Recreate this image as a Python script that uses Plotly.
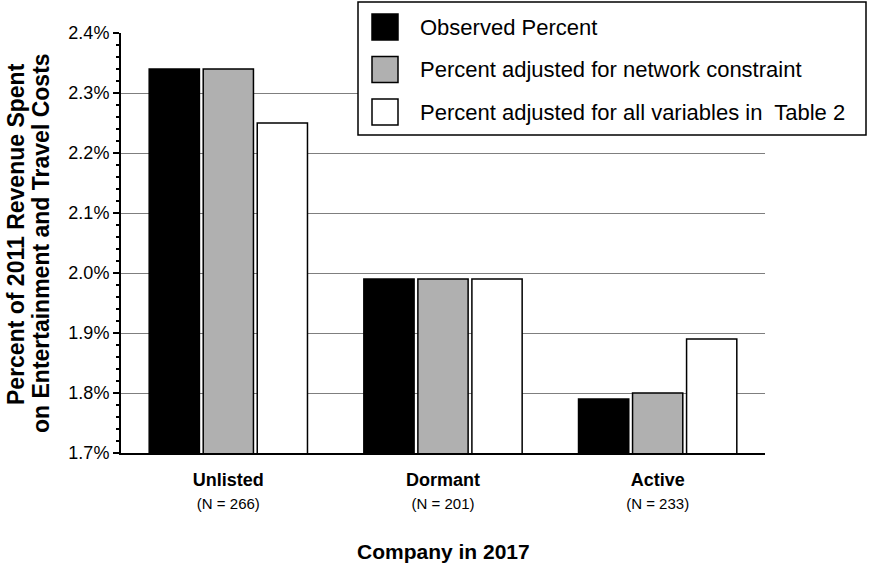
import plotly.graph_objects as go

categories = ["Unlisted", "Dormant", "Active"]
n_labels = ["(N = 266)", "(N = 201)", "(N = 233)"]
series_names = ["Observed Percent",
                "Percent adjusted for network constraint",
                "Percent adjusted for all variables in  Table 2"]
observed = [2.34, 1.99, 1.79]
adj_network = [2.34, 1.99, 1.80]
adj_all = [2.25, 1.99, 1.89]
colors = ["#000000", "#b0b0b0", "#ffffff"]
y_ticks = [1.7, 1.8, 1.9, 2.0, 2.1, 2.2, 2.3, 2.4]
y_title_lines = ["Percent of 2011 Revenue Spent", "on Entertainment and Travel Costs"]
x_title = "Company in 2017"

FONT = "Liberation Sans, Arial, sans-serif"

fig = go.Figure()
for name, vals, col in zip(series_names, [observed, adj_network, adj_all], colors):
    fig.add_trace(go.Bar(x=categories, y=vals, name=name,
                         marker=dict(color=col, line=dict(color="black", width=1.5)),
                         showlegend=False, hoverinfo="skip"))

ticktext = [f"<b>{c}</b><br><span style='font-size:15px'>{n}</span>" for c, n in zip(categories, n_labels)]

L, R, T, B = 121, 104, 33, 119
W, H = 869, 572
pw, ph = W - L - R, H - T - B

def px(x):
    return (x - L) / pw

def py(y):
    return (H - B - y) / ph

shapes = []
annotations = []
# legend box
shapes.append(dict(type="rect", xref="paper", yref="paper",
                   x0=px(358), x1=px(866), y0=py(135), y1=py(2),
                   line=dict(color="black", width=1.5), fillcolor="white", layer="above"))
for i, (name, col) in enumerate(zip(series_names, colors)):
    yc = 27 + i * 42.5
    shapes.append(dict(type="rect", xref="paper", yref="paper",
                       x0=px(372), x1=px(398), y0=py(yc + 13), y1=py(yc - 13),
                       line=dict(color="black", width=1.5), fillcolor=col, layer="above"))
    annotations.append(dict(xref="paper", yref="paper", x=px(418), y=py(yc),
                            xanchor="left", yanchor="middle", showarrow=False,
                            text=name, font=dict(family=FONT, size=22, color="black")))

for line, xc, yc in zip(y_title_lines, [16, 41], [234, 243]):
    annotations.append(dict(xref="paper", yref="paper", x=px(xc), y=py(yc),
                            xanchor="center", yanchor="middle", showarrow=False, textangle=-90,
                            text=f"<b>{line}</b>",
                            font=dict(family=FONT, size=23, color="black")))
annotations.append(dict(xref="paper", yref="paper", x=px(443), y=py(551),
                        xanchor="center", yanchor="middle", showarrow=False,
                        text=f"<b>{x_title}</b>",
                        font=dict(family=FONT, size=21, color="black")))

fig.update_layout(
    width=W, height=H,
    margin=dict(l=L, r=R, t=T, b=B),
    paper_bgcolor="white", plot_bgcolor="white",
    barmode="group", bargap=0.245, bargroupgap=0.07,
    font=dict(family=FONT, color="black"),
    shapes=shapes, annotations=annotations,
    xaxis=dict(tickmode="array", tickvals=categories, ticktext=ticktext,
               tickfont=dict(family=FONT, size=18, color="black"),
               showline=True, linecolor="black", linewidth=2, ticks="",
               showgrid=False, ticklabelstandoff=9),
    yaxis=dict(range=[1.7, 2.4], tickmode="array", tickvals=y_ticks,
               ticktext=[f"{v:.1f}%" for v in y_ticks],
               tickfont=dict(family=FONT, size=18, color="black"),
               showline=True, linecolor="black", linewidth=2,
               ticks="outside", ticklen=6, tickwidth=1.5, tickcolor="black",
               showgrid=True, gridcolor="#7f7f7f", gridwidth=1,
               minor=dict(dtick=0.02, ticks="outside", ticklen=3, tickcolor="black", showgrid=False),
               zeroline=False),
)

fig.write_html("out.html", config={"displayModeBar": False},
               post_script="document.body.style.margin='0px';document.body.style.overflow='hidden';")
